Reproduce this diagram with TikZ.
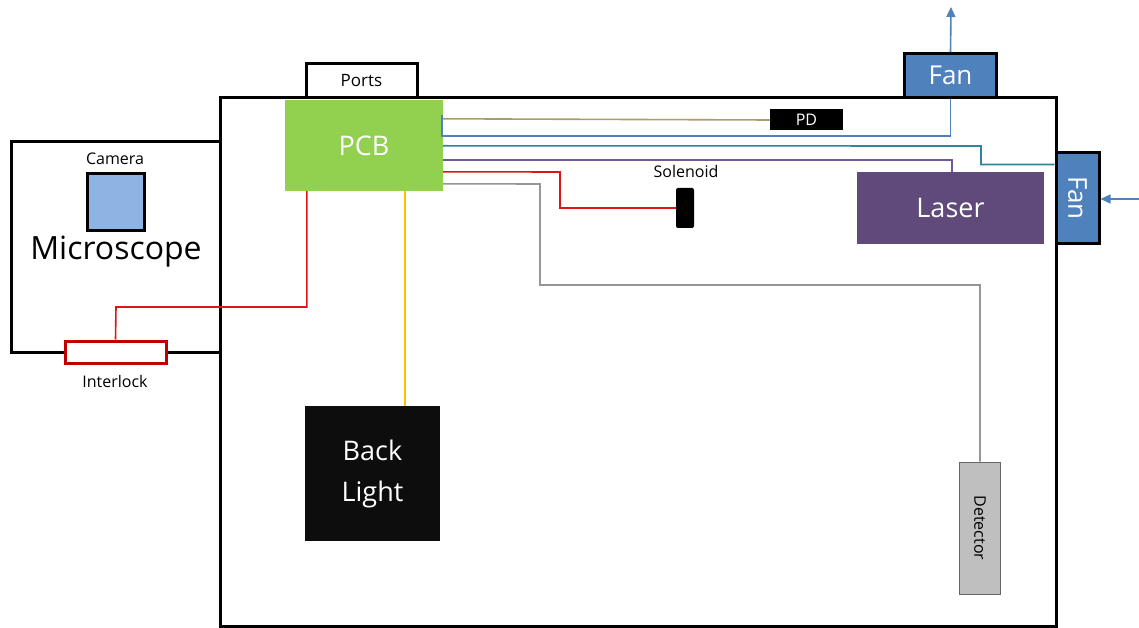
\documentclass[tikz,border=0pt]{standalone}
\usepackage{fontspec}
\setmainfont{Open Sans}
\usetikzlibrary{calc,arrows.meta}
\definecolor{pcbgreen}{HTML}{92D050}
\definecolor{fanblue}{HTML}{4F81BD}
\definecolor{camblue}{HTML}{8EB4E3}
\definecolor{laserpurple}{HTML}{604A7B}
\definecolor{wireolive}{HTML}{A89F68}
\definecolor{wireteal}{HTML}{31849B}
\definecolor{wirepurple}{HTML}{70589A}
\definecolor{wirered}{HTML}{D81818}
\definecolor{lockred}{HTML}{C00000}
\definecolor{wiregrey}{HTML}{969696}
\definecolor{wireyellow}{HTML}{FFC000}
\definecolor{detgrey}{HTML}{BFBFBF}
\definecolor{lightblack}{HTML}{0D0D0D}
\begin{document}
\begin{tikzpicture}[x=1pt,y=-1pt,
  box/.style={draw=black, line width=3pt, inner sep=0pt},
  wire/.style={line width=1.6pt},
  flowarrow/.style={fanblue, line width=1.6pt, -{Triangle[length=10pt,width=9pt]}},
  bigtext/.style={text=white, font=\fontsize{27}{41}\selectfont},
  smalltext/.style={inner sep=0pt, font=\fontsize{16}{19}\selectfont}
]
\useasboundingbox (0,0) rectangle (1139,628);
\fill[white] (0,0) rectangle (1139,628);

% enclosures
\node[box, minimum width=836pt, minimum height=529pt] (housing) at (638,362) {};
\node[box, minimum width=209pt, minimum height=210pt] (scope) at (115.5,247) {};
\node[box, fill=white, minimum width=111pt, minimum height=34pt, font=\fontsize{17}{20}\selectfont] (ports) at (361.5,81) {Ports};
\node[box, fill=fanblue, minimum width=92pt, minimum height=44pt, bigtext, font=\fontsize{26}{30}\selectfont] (fantop) at (950.5,75.5) {Fan};
\node[box, fill=fanblue, minimum width=43pt, minimum height=90pt] (fanright) at (1077.5,198) {};
\node[bigtext, rotate=-90, font=\fontsize{26}{30}\selectfont] (fanrighttext) at (fanright.center) {Fan};

% components
\node[fill=pcbgreen, minimum width=158pt, minimum height=91pt, bigtext] (pcb) at (364,145.5) {PCB};
\node[fill=black, minimum width=73pt, minimum height=21pt, inner sep=0pt, text=white, font=\fontsize{16}{19}\selectfont] (pd) at (806.5,120) {PD};
\node[fill=laserpurple, minimum width=187pt, minimum height=72pt, bigtext] (laser) at (950.5,208) {Laser};
\node[fill=black, rounded corners=2pt, minimum width=18pt, minimum height=40pt] (solenoid) at (685,208) {};
\node[smalltext, anchor=base] (solenoidlabel) at (686,178) {Solenoid};
\node[fill=detgrey, draw=black!60, line width=0.9pt, minimum width=41pt, minimum height=132pt] (detector) at (980,528) {};
\node[rotate=-90, font=\fontsize{16}{19}\selectfont] (detectortext) at (detector.center) {Detector};
\node[fill=lightblack, minimum width=135pt, minimum height=135pt, bigtext, align=center] (backlight) at (372.5,473.5) {Back\\Light};

% microscope
\node[box, fill=camblue, minimum width=57pt, minimum height=57pt] (camera) at (115.5,202.5) {};
\node[smalltext, anchor=base] (cameralabel) at (115,165) {Camera};
\node[anchor=base, inner sep=0pt, font=\fontsize{32}{38}\selectfont] (scopelabel) at (116,259) {Microscope};
\node[draw=lockred, line width=3pt, fill=white, minimum width=101pt, minimum height=22pt, inner sep=0pt] (interlock) at (115.5,352) {};
\node[smalltext, anchor=base] (interlocklabel) at (115,387) {Interlock};

% air flow
\coordinate (exhaust) at (951,7);
\coordinate (intake) at (1139,199);
\draw[flowarrow] (fantop.north) -- (exhaust);
\draw[flowarrow] (intake) -- (intake -| fanright.east);

% wiring
\draw[wire, wireolive] ($(pcb.north east)+(0,19)$) -- (pd.west);
\draw[wire, fanblue] ($(pcb.north east)+(-1,15)$) |- ($(fantop.south)+(0,37)$) -- (fantop.south);
\draw[wire, wireteal] ($(pcb.north east)+(0,46)$) -- (981,146) |- ($(fanright.north west)+(0,13)$);
\draw[wire, wirepurple] ($(pcb.north east)+(0,60)$) -| ($(laser.north west)+(95,0)$);
\draw[wire, wirered] ($(pcb.north east)+(0,72)$) -- (560,172) |- (solenoid.west);
\draw[wire, wiregrey] ($(pcb.north east)+(0,84)$) -- (540,184) |- (980,285) -- (detector.north);
\draw[wire, wireyellow] ($(pcb.south west)+(120,0)$) -- ($(backlight.north west)+(100,0)$);
\draw[wire, wirered] ($(pcb.south west)+(22,0)$) |- (116,307) -- (interlock.north);
\end{tikzpicture}
\end{document}
